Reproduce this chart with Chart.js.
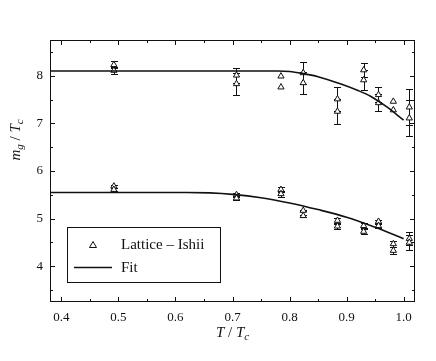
<!DOCTYPE html>
<html><head><meta charset="utf-8">
<script src="https://cdn.jsdelivr.net/npm/chart.js@4/dist/chart.umd.min.js"></script>
<style>html,body{margin:0;padding:0;background:#fff;}#wrap{width:436px;height:361px;position:relative;}</style>
</head><body><div id="wrap"><canvas id="c" width="436" height="361"></canvas></div>
<script>
// ---- data ----
const tValues   = [0.492, 0.707, 0.785, 0.824, 0.884, 0.930, 0.956, 0.982, 1.010];
const upperA    = [8.23, 8.01, 7.99, 8.06, 7.51, 8.12, 7.60, 7.46, 7.34];
const upperAErr = [0.07, 0.16, 0, 0.23, 0.26, 0.15, 0.16, 0, 0.38];
const upperB    = [8.11, 7.83, 7.76, 7.85, 7.25, 7.91, 7.43, 7.28, 7.11];
const upperBErr = [0.07, 0.23, 0, 0.23, 0.27, 0.21, 0.18, 0, 0.37];
const lowerA    = [5.68, 5.50, 5.61, 5.17, 4.96, 4.85, 4.94, 4.47, 4.58];
const lowerAErr = [0.03, 0.04, 0.05, 0.02, 0.05, 0.05, 0.04, 0.06, 0.14];
const lowerB    = [5.61, 5.43, 5.52, 5.06, 4.84, 4.73, 4.85, 4.33, 4.50];
const lowerBErr = [0.03, 0.04, 0.06, 0.02, 0.05, 0.05, 0.04, 0.07, 0.16];
const upperFitT = [0.38, 0.78, 0.80, 0.822, 0.85, 0.889, 0.92, 0.942, 0.97, 1.0];
const upperFitY = [8.10, 8.10, 8.09, 8.05, 7.98, 7.83, 7.69, 7.57, 7.35, 7.07];
const lowerFitT = [0.38, 0.62, 0.66, 0.70, 0.75, 0.80, 0.85, 0.90, 0.95, 1.0];
const lowerFitY = [5.55, 5.55, 5.54, 5.51, 5.44, 5.33, 5.19, 5.03, 4.82, 4.58];
const xTicks = [0.4, 0.5, 0.6, 0.7, 0.8, 0.9, 1.0];
const yTicks = [4, 5, 6, 7, 8];
const legendLabels = ['Lattice \u2013 Ishii', 'Fit'];

const SERIF = "'Liberation Serif', 'Times New Roman', serif";
const pts = [];
[upperA, upperB, lowerA, lowerB].forEach(arr => arr.forEach((v, i) => pts.push({x: tValues[i], y: v})));
const errSets = [[upperA, upperAErr], [upperB, upperBErr], [lowerA, lowerAErr], [lowerB, lowerBErr]];

function drawRich(ctx, parts, x, y, align) {
  // parts: {t, size, italic, dy}
  let w = 0;
  parts.forEach(p => { ctx.font = (p.italic ? 'italic ' : '') + p.size + 'px ' + SERIF; p.w = ctx.measureText(p.t).width; w += p.w; });
  let cx = align === 'center' ? x - w / 2 : x;
  ctx.textBaseline = 'alphabetic'; ctx.textAlign = 'left';
  parts.forEach(p => { ctx.font = (p.italic ? 'italic ' : '') + p.size + 'px ' + SERIF; ctx.fillText(p.t, cx, y + (p.dy || 0)); cx += p.w; });
}

const decor = {
  id: 'decor',
  beforeDatasetsDraw(chart) {
    const ctx = chart.ctx, xs = chart.scales.x, ys = chart.scales.y;
    ctx.save(); ctx.strokeStyle = '#111'; ctx.lineWidth = 1;
    errSets.forEach(([vals, errs]) => vals.forEach((v, i) => {
      const e = errs[i]; if (!e) return;
      const px = Math.round(xs.getPixelForValue(tValues[i])) + 0.5;
      const y1 = Math.round(ys.getPixelForValue(v + e)) + 0.5, y2 = Math.round(ys.getPixelForValue(v - e)) + 0.5;
      ctx.beginPath();
      ctx.moveTo(px, y1); ctx.lineTo(px, y2);
      ctx.moveTo(px - 3.5, y1); ctx.lineTo(px + 3.5, y1);
      ctx.moveTo(px - 3.5, y2); ctx.lineTo(px + 3.5, y2);
      ctx.stroke();
    }));
    ctx.restore();
  },
  afterDraw(chart) {
    const ctx = chart.ctx, a = chart.chartArea, xs = chart.scales.x, ys = chart.scales.y;
    ctx.save();
    ctx.strokeStyle = '#111'; ctx.lineWidth = 1;
    ctx.strokeRect(Math.round(a.left) + 0.5, Math.round(a.top) + 0.5, Math.round(a.right - a.left) - 1, Math.round(a.bottom - a.top) - 1);
    // ticks (inward, mirrored)
    ctx.beginPath();
    for (let k = 0; k <= 12; k++) {
      const v = 0.4 + k * 0.05; if (v > 1.02) break;
      const len = k % 2 === 0 ? 5 : 3;
      const px = Math.round(xs.getPixelForValue(v)) + 0.5;
      ctx.moveTo(px, a.bottom); ctx.lineTo(px, a.bottom - len);
      ctx.moveTo(px, a.top); ctx.lineTo(px, a.top + len);
    }
    for (let k = 0; k <= 10; k++) {
      const v = 3.5 + k * 0.5; if (v > 8.75) break;
      const len = (v % 1 === 0) ? 5 : 3;
      const py = Math.round(ys.getPixelForValue(v)) + 0.5;
      ctx.moveTo(a.left, py); ctx.lineTo(a.left + len, py);
      ctx.moveTo(a.right, py); ctx.lineTo(a.right - len, py);
    }
    ctx.stroke();
    // axis titles
    ctx.fillStyle = '#111';
    drawRich(ctx, [{t: 'T', size: 15, italic: true}, {t: ' / ', size: 15}, {t: 'T', size: 15, italic: true}, {t: 'c', size: 11, italic: true, dy: 3}], (a.left + a.right) / 2, 337, 'center');
    ctx.save();
    ctx.translate(20, 140); ctx.rotate(-Math.PI / 2);
    drawRich(ctx, [{t: 'm', size: 15, italic: true}, {t: 'g', size: 11, italic: true, dy: 3}, {t: ' / ', size: 15}, {t: 'T', size: 15, italic: true}, {t: 'c', size: 11, italic: true, dy: 3}], 0, 0, 'center');
    ctx.restore();
    // legend
    ctx.fillStyle = '#fff';
    ctx.fillRect(67.5, 227.5, 153, 55);
    ctx.strokeRect(67.5, 227.5, 153, 55);
    ctx.fillStyle = '#fff'; ctx.strokeStyle = '#111';
    ctx.beginPath();
    ctx.moveTo(93, 241.5); ctx.lineTo(96.5, 247.5); ctx.lineTo(89.5, 247.5); ctx.closePath();
    ctx.fill(); ctx.stroke();
    ctx.lineWidth = 1.5;
    ctx.beginPath(); ctx.moveTo(74, 267.5); ctx.lineTo(112, 267.5); ctx.stroke();
    ctx.fillStyle = '#111';
    ctx.font = '15px ' + SERIF; ctx.textBaseline = 'middle'; ctx.textAlign = 'left';
    ctx.fillText(legendLabels[0], 121, 245);
    ctx.fillText(legendLabels[1], 121, 268);
    ctx.restore();
  }
};

new Chart(document.getElementById('c'), {
  data: {
    datasets: [
      {type: 'line', label: 'Fit', data: upperFitT.map((t, i) => ({x: t, y: upperFitY[i]})), borderColor: '#111', borderWidth: 1.6, pointRadius: 0, cubicInterpolationMode: 'monotone', fill: false},
      {type: 'line', label: 'Fit (lower)', data: lowerFitT.map((t, i) => ({x: t, y: lowerFitY[i]})), borderColor: '#111', borderWidth: 1.6, pointRadius: 0, cubicInterpolationMode: 'monotone', fill: false},
      {type: 'scatter', label: legendLabels[0], data: pts, pointStyle: 'triangle', pointRadius: 3.6, backgroundColor: '#fff', borderColor: '#111', borderWidth: 1}
    ]
  },
  options: {
    responsive: false, animation: false, devicePixelRatio: 1,
    layout: {padding: {left: 0, right: 21, top: 40, bottom: 0}},
    plugins: {legend: {display: false}, tooltip: {enabled: false}},
    scales: {
      x: {type: 'linear', position: 'bottom', min: 0.38, max: 1.02,
        afterBuildTicks: s => { s.ticks = xTicks.map(v => ({value: v})); },
        afterFit: s => { s.height = 59; },
        ticks: {font: {family: SERIF, size: 13}, color: '#111', padding: 8, maxRotation: 0, autoSkip: false, callback: v => Number(v).toFixed(1)},
        grid: {display: false, drawTicks: false}, border: {display: false}},
      y: {type: 'linear', position: 'left', min: 3.25, max: 8.75,
        afterBuildTicks: s => { s.ticks = yTicks.map(v => ({value: v})); },
        afterFit: s => { s.width = 50; },
        ticks: {font: {family: SERIF, size: 13}, color: '#111', padding: 7, callback: v => String(v)},
        grid: {display: false, drawTicks: false}, border: {display: false}}
    }
  },
  plugins: [decor]
});
</script></body></html>
